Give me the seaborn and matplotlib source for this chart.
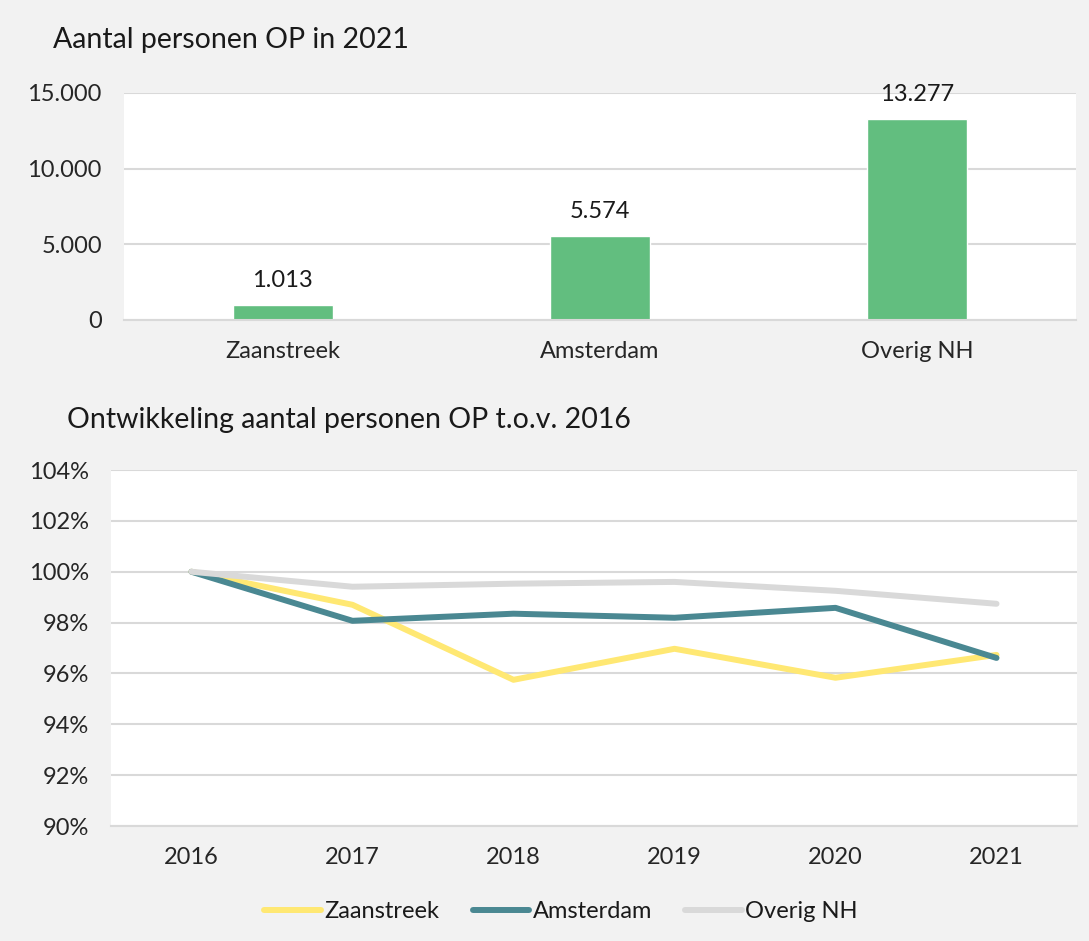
import pandas as pd
import seaborn as sns
import matplotlib.pyplot as plt
from matplotlib.ticker import FuncFormatter

# top chart: number of persons in 2021
regions = ["Zaanstreek", "Amsterdam", "Overig NH"]
persons_2021 = [1013, 5574, 13277]

# bottom chart: development relative to 2016 (%)
years = ["2016", "2017", "2018", "2019", "2020", "2021"]
zaanstreek = [100.0, 98.7, 95.75, 96.97, 95.83, 96.73]
amsterdam = [100.0, 98.07, 98.35, 98.19, 98.58, 96.61]
overig_nh = [100.0, 99.41, 99.53, 99.6, 99.25, 98.74]

colors = {"Zaanstreek": "#ffe873", "Amsterdam": "#4a8892", "Overig NH": "#d9d9d9"}
bar_color = "#62be7f"
grid_color = "#d9d9d9"
bg = "#f2f2f2"

sns.set_theme(style="white")
plt.rcParams["font.family"] = ["Lato", "DejaVu Sans"]
plt.rcParams["text.color"] = "#1a1a1a"

fs = 17
title_fs = 20.5


def dotted(v, pos=None):
    return f"{int(round(v)):,}".replace(",", ".")


fig = plt.figure(figsize=(10.89, 9.41), dpi=100, facecolor=bg)

# ---- top: bars
ax1 = fig.add_axes([0.1139, 0.660, 0.874, 0.2412])
bars = pd.DataFrame({"regio": regions, "aantal": persons_2021})
sns.barplot(data=bars, x="regio", y="aantal", color=bar_color, width=0.315,
            saturation=1, ax=ax1)
ax1.set_ylim(0, 15000)
ax1.set_yticks([0, 5000, 10000, 15000])
ax1.yaxis.set_major_formatter(FuncFormatter(dotted))
ax1.grid(axis="y", color=grid_color, linewidth=1.5)
ax1.set_axisbelow(True)
for s in ["top", "right", "left"]:
    ax1.spines[s].set_visible(False)
ax1.spines["bottom"].set_color(grid_color)
ax1.spines["bottom"].set_linewidth(1.5)
ax1.set_xlabel("")
ax1.set_ylabel("")
ax1.tick_params(axis="both", length=0, labelsize=fs)
ax1.tick_params(axis="y", pad=16)
ax1.tick_params(axis="x", pad=15)
for c in ax1.containers:
    ax1.bar_label(c, labels=[dotted(v) for v in persons_2021], padding=10,
                  fontsize=fs)
fig.text(0.049, 0.957, "Aantal personen OP in 2021", fontsize=title_fs,
         va="center")

# ---- bottom: lines
ax2 = fig.add_axes([0.1019, 0.1222, 0.8871, 0.3783])
lines = pd.DataFrame({
    "pos": list(range(len(years))) * 3,
    "waarde": zaanstreek + amsterdam + overig_nh,
    "regio": ["Zaanstreek"] * 6 + ["Amsterdam"] * 6 + ["Overig NH"] * 6,
})
sns.lineplot(data=lines, x="pos", y="waarde", hue="regio", palette=colors,
             linewidth=4.3, solid_capstyle="round", ax=ax2)
ax2.set_xlim(-0.5, len(years) - 0.5)
ax2.set_xticks(range(len(years)))
ax2.set_xticklabels(years)
ax2.set_ylim(90, 104)
ax2.set_yticks(range(90, 105, 2))
ax2.yaxis.set_major_formatter(FuncFormatter(lambda v, p: f"{int(v)}%"))
ax2.grid(axis="y", color=grid_color, linewidth=1.5)
ax2.set_axisbelow(True)
for s in ["top", "right", "left"]:
    ax2.spines[s].set_visible(False)
ax2.spines["bottom"].set_color(grid_color)
ax2.spines["bottom"].set_linewidth(1.5)
ax2.set_xlabel("")
ax2.set_ylabel("")
ax2.tick_params(axis="both", length=0, labelsize=fs)
ax2.tick_params(axis="y", pad=16)
ax2.tick_params(axis="x", pad=15)
leg = ax2.legend(loc="upper center", bbox_to_anchor=(0.466, -0.152), ncol=3,
                 frameon=False, fontsize=fs, handlelength=2.4,
                 handletextpad=0.15, columnspacing=1.4)
for h in leg.get_lines():
    h.set_linewidth(4.3)
    h.set_solid_capstyle("round")
fig.text(0.0615, 0.554, "Ontwikkeling aantal personen OP t.o.v. 2016",
         fontsize=title_fs, va="center")

fig.savefig("out.png", dpi=100, facecolor=bg)
